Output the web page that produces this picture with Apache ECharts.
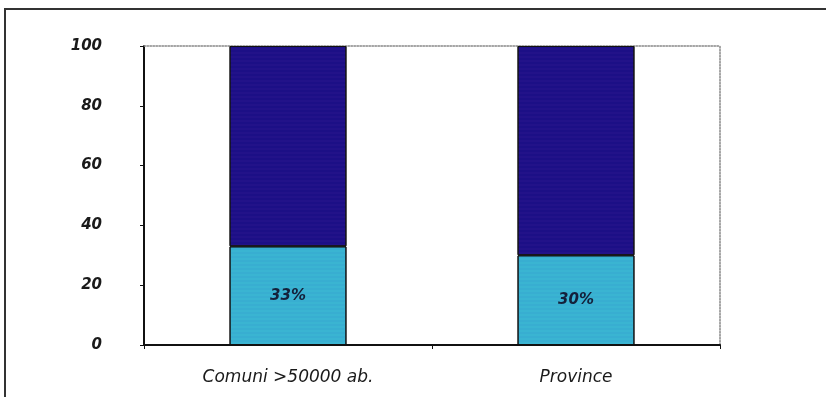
<!DOCTYPE html>
<html>
<head>
<meta charset="utf-8">
<style>
  html, body { margin: 0; padding: 0; background: #fff; }
  #frame { position: absolute; left: 4px; top: 8px; width: 840px; height: 400px;
           border-top: 2px solid #333; border-left: 2px solid #333; box-sizing: border-box; }
  #chart { position: absolute; left: 0; top: 0; width: 826px; height: 397px; }
</style>
<script src="https://cdn.jsdelivr.net/npm/echarts@6/dist/echarts.min.js"></script>
</head>
<body>
<div id="frame"></div>
<div id="chart"></div>
<script>
// Share of the two groups, stacked to 100
const categories = ['Comuni >50000 ab.', 'Province'];
const lowerShare = [33, 30];
const upperShare = [67, 70];
const yTicks = [0, 20, 40, 60, 80, 100];

const font = { fontFamily: 'DejaVu Sans, Verdana, sans-serif', fontStyle: 'italic', fontWeight: 'bold', color: '#1a1a1a' };

const chart = echarts.init(document.getElementById('chart'), null, { renderer: 'canvas' });
chart.setOption({
  animation: false,
  backgroundColor: 'transparent',
  grid: { left: 144, top: 46, width: 576, height: 299 },
  xAxis: [
    {
      type: 'category', data: categories, position: 'bottom',
      axisLine: { onZero: false, lineStyle: { color: '#111', width: 2 } },
      axisTick: { show: true, length: 4, lineStyle: { color: '#111' } },
      axisLabel: Object.assign({ margin: 24 }, font, { fontWeight: 'normal', fontSize: 17 })
    },
    {
      type: 'category', data: categories, position: 'top',
      axisLine: { onZero: false, lineStyle: { color: '#888', width: 1.5, type: 'dotted' } },
      axisTick: { show: false }, axisLabel: { show: false }
    }
  ],
  yAxis: [
    {
      type: 'value', min: yTicks[0], max: yTicks[yTicks.length - 1], interval: 20,
      axisLine: { show: true, onZero: false, lineStyle: { color: '#111', width: 2 } },
      axisTick: { show: true, length: 4, lineStyle: { color: '#111' } },
      splitLine: { show: false },
      axisLabel: Object.assign({ margin: 42, align: 'right', fontSize: 15 }, font)
    },
    {
      type: 'value', min: 0, max: 100, interval: 20, position: 'right',
      axisLine: { show: true, onZero: false, lineStyle: { color: '#888', width: 1.5, type: 'dotted' } },
      axisTick: { show: false }, axisLabel: { show: false }, splitLine: { show: false }
    }
  ],
  series: [
    {
      name: 'lower', type: 'bar', stack: 'tot', data: lowerShare, barWidth: '40.6%',
      itemStyle: {
        color: '#3ab4d2', borderColor: '#111', borderWidth: 1,
        decal: { symbol: 'rect', symbolSize: 0.5, dashArrayX: [1, 0], dashArrayY: [2, 2], color: 'rgba(40,120,200,0.35)' }
      },
      label: Object.assign({ show: true, position: 'inside', formatter: '{c}%' }, font, { fontSize: 15, color: '#14203a' })
    },
    {
      name: 'upper', type: 'bar', stack: 'tot', data: upperShare, barWidth: '40.6%',
      itemStyle: {
        color: '#1c0f86', borderColor: '#111', borderWidth: 1,
        decal: { symbol: 'rect', symbolSize: 0.5, dashArrayX: [1, 0], dashArrayY: [2, 2], color: 'rgba(90,40,160,0.4)' }
      }
    }
  ]
});
</script>
</body>
</html>
